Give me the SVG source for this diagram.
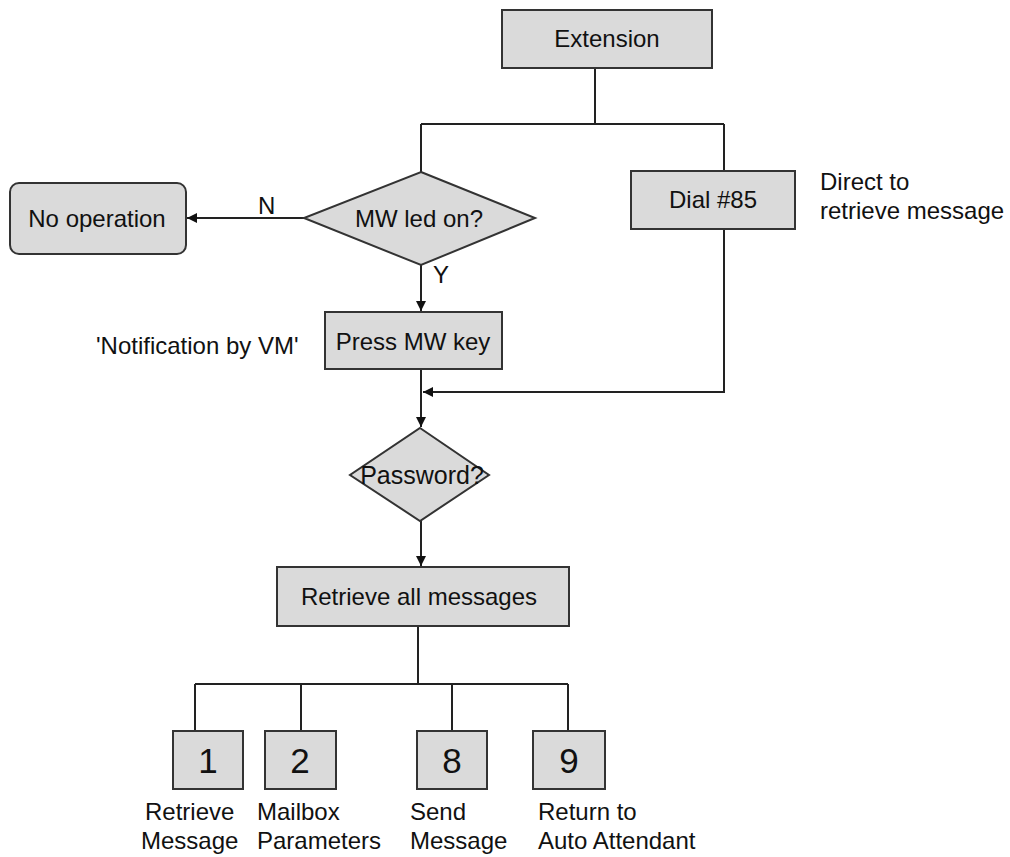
<svg xmlns="http://www.w3.org/2000/svg" width="1010" height="857" viewBox="0 0 1010 857">
<defs>
<style>
.box{fill:#dadada;stroke:#333;stroke-width:2}
.ln{fill:none;stroke:#222;stroke-width:2}
text{font-family:"Liberation Sans",Arial,sans-serif;font-size:24px;fill:#111}
.c{text-anchor:middle}
.d{font-size:35px}
</style>
<marker id="ah" viewBox="0 0 10 10" refX="10" refY="5" markerWidth="12" markerHeight="10" markerUnits="userSpaceOnUse" orient="auto">
<path d="M0,0 L10,5 L0,10 Z" fill="#111"/>
</marker>
</defs>
<rect width="1010" height="857" fill="#fff"/>
<g id="connectors">
<path class="ln" d="M595,68 V124 M421,124 H724 M421,124 V172 M724,124 V171"/>
<path class="ln" d="M304,218 H187" marker-end="url(#ah)"/>
<path class="ln" d="M421,265 V311" marker-end="url(#ah)"/>
<path class="ln" d="M724,229 V392 H423" marker-end="url(#ah)"/>
<path class="ln" d="M421,369 V427" marker-end="url(#ah)"/>
<path class="ln" d="M421,521 V566" marker-end="url(#ah)"/>
<path class="ln" d="M418,626 V684 M195,684 H568 M195,684 V731 M301,684 V731 M452,684 V731 M568,684 V731"/>
</g>
<g id="extension"><rect class="box" x="502" y="10" width="210" height="58"/><text class="c" x="607" y="47">Extension</text></g>
<g id="mwled"><polygon class="box" points="421,172 535,218 421,265 304,218"/><text class="c" x="419" y="227">MW led on?</text></g>
<g id="noop"><rect class="box" x="10" y="183" width="176" height="71" rx="9"/><text class="c" x="97" y="227">No operation</text></g>
<g id="label-n"><text x="258" y="214">N</text></g>
<g id="label-y"><text x="433" y="283">Y</text></g>
<g id="dial85"><rect class="box" x="631" y="171" width="164" height="58"/><text class="c" x="713" y="208">Dial #85</text></g>
<g id="direct-note"><text x="820" y="190">Direct to</text><text x="820" y="219">retrieve message</text></g>
<g id="pressmw"><rect class="box" x="325" y="312" width="177" height="57"/><text class="c" x="413" y="350">Press MW key</text></g>
<g id="notif-note"><text x="96" y="354">'Notification by VM'</text></g>
<g id="password"><polygon class="box" points="420,428 489,475 420,521 350,475"/><text class="c" x="422" y="484" style="font-size:25px">Password?</text></g>
<g id="retrieveall"><rect class="box" x="277" y="567" width="292" height="59"/><text class="c" x="419" y="605">Retrieve all messages</text></g>
<g id="k1"><rect class="box" x="173" y="731" width="70" height="58"/><text class="c d" x="208" y="773">1</text></g>
<g id="k2"><rect class="box" x="265" y="731" width="71" height="58"/><text class="c d" x="300" y="773">2</text></g>
<g id="k8"><rect class="box" x="417" y="731" width="70" height="58"/><text class="c d" x="452" y="773">8</text></g>
<g id="k9"><rect class="box" x="533" y="731" width="72" height="58"/><text class="c d" x="569" y="773">9</text></g>
<g id="labels">
<text x="145" y="820">Retrieve</text><text x="141" y="849">Message</text>
<text x="257" y="820">Mailbox</text><text x="257" y="849">Parameters</text>
<text x="410" y="820">Send</text><text x="410" y="849">Message</text>
<text x="538" y="820">Return to</text><text x="538" y="849">Auto Attendant</text>
</g>
</svg>
